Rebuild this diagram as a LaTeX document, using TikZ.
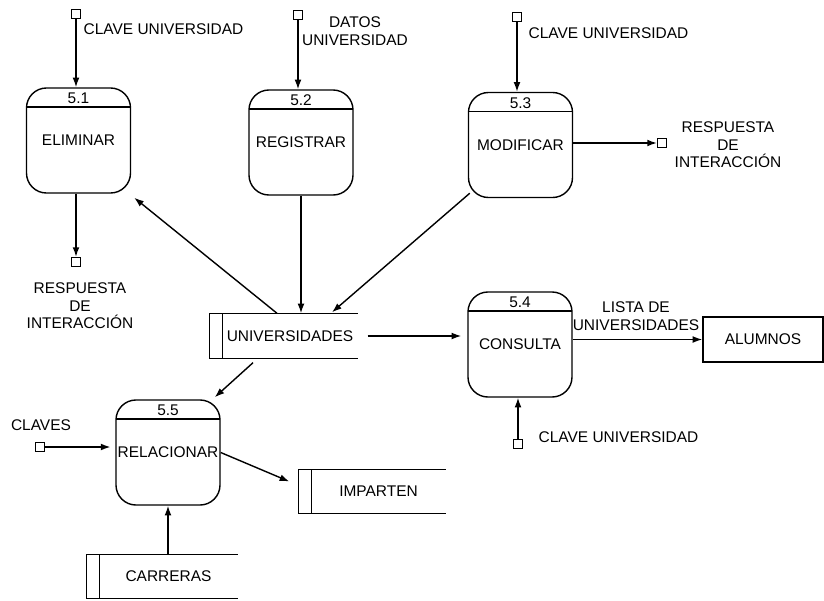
\documentclass[tikz,border=0pt]{standalone}
\usepackage{fontspec}
\setmainfont{Liberation Sans}
\usetikzlibrary{arrows.meta}
\tikzset{
    proceso/.style={draw, rounded corners=0.5cm, minimum width=2.6cm, minimum height=2.625cm, inner sep=0pt,
        path picture={\draw ([yshift=-0.475cm]path picture bounding box.north west) -- ([yshift=-0.475cm]path picture bounding box.north east);}},
    num/.style={inner sep=1pt, below=2.5pt},
    almacen/.style={minimum height=1.1cm, inner sep=0pt},
    entidad/.style={draw, minimum width=3cm, minimum height=1.125cm, inner sep=0pt},
    term/.style={draw, line width=0.7pt, minimum size=0.23cm, inner sep=0pt},
    txt/.style={align=center, inner sep=0pt}
}
\begin{document}
\begin{tikzpicture}[x=0.025cm, y=-0.025cm, line width=1pt, >={Latex[length=2.4mm,width=1.7mm]}, font=\fontsize{11}{12.5}\selectfont]
        \useasboundingbox (0,0) rectangle (824,600);
        \def\barra{0.325cm}
        % procesos
        \node[proceso, label={[num]north:5.1}] (p51) at (78.5,140.5) {ELIMINAR};
        \node[proceso, label={[num]north:5.2}] (p52) at (301,142.5) {REGISTRAR};
        \node[proceso, label={[num]north:5.3}] (p53) at (520.5,145) {MODIFICAR};
        \node[proceso, label={[num]north:5.4}] (p54) at (520,344.5) {CONSULTA};
        \node[proceso, label={[num]north:5.5}] (p55) at (168,452.5) {RELACIONAR};
        % almacenes
        \node[almacen, minimum width=3.35cm] (univ) at (290,336) {UNIVERSIDADES};
        \node[almacen, minimum width=3.325cm, minimum height=1.075cm] (imparten) at (378.5,491.5) {IMPARTEN};
        \node[almacen, minimum width=3.425cm, minimum height=1.075cm] (carreras) at (168.5,576.5) {CARRERAS};
        \foreach \n in {univ,imparten,carreras} {
            \draw (\n.north east) -- ([xshift=-\barra]\n.north west) -- ([xshift=-\barra]\n.south west) -- (\n.south east);
            \draw (\n.north west) -- (\n.south west);
        }
        \node[entidad] (alumnos) at (763,339.5) {ALUMNOS};
        % terminales
        \node[term] (t1) at (76,14) {};
        \node[term] (t1r) at (76,262) {};
        \node[term] (t2) at (298,15) {};
        \node[term] (t3) at (517,17) {};
        \node[term] (t3r) at (662,143) {};
        \node[term] (t4) at (518,444) {};
        \node[term] (t5) at (40,447) {};
        % textos
        \node[txt, anchor=west] (l1) at (83,29) {CLAVE UNIVERSIDAD};
        \node[txt] (l1r) at (80,306) {RESPUESTA\\DE\\INTERACCIÓN};
        \node[txt] (l2) at (355,31) {DATOS\\UNIVERSIDAD};
        \node[txt, anchor=west] (l3) at (528,33) {CLAVE UNIVERSIDAD};
        \node[txt] (l3r) at (728,145) {RESPUESTA\\DE\\INTERACCIÓN};
        \node[txt] (l4) at (636,316) {LISTA DE\\UNIVERSIDADES};
        \node[txt, anchor=west] (l5) at (538,437) {CLAVE UNIVERSIDAD};
        \node[txt] (l6) at (41,425) {CLAVES};
        % flujos
        \draw[->] (t1) -- (t1 |- p51.north);
        \draw[->] (t1 |- p51.south) -- (t1r);
        \draw[->] (t2) -- (t2 |- p52.north);
        \draw[->] (p52.south) -- (p52.south |- univ.north);
        \draw[->] (t3) -- (t3 |- p53.north);
        \draw[->] (p53.east |- t3r) -- (t3r);
        \draw[->] ([shift={(2,-5)}]p53.south west) -- ([shift={(42,-1)}]univ.north);
        \draw[->] ([shift={(-13,0)}]univ.north) -- ([shift={(3,4)}]p51.south east);
        \draw[->, shorten <=0.25cm, shorten >=0.15cm] (univ.east) -- (univ.east -| p54.west);
        \draw[->] ([shift={(-37,4)}]univ.south) -- ([shift={(-6,-2)}]p55.north east);
        \draw[->, shorten >=0.12cm] (t5) -- (t5 -| p55.west);
        \draw[->] (p55.east) -- ([shift={(-22,-10)}]imparten.west);
        \draw[->] (carreras.north -| p55.south) -- (p55.south);
        \draw[->] (p54.east |- alumnos.west) -- (alumnos.west);
        \draw[->] (t4) -- (t4 |- p54.south);
\end{tikzpicture}
\end{document}
